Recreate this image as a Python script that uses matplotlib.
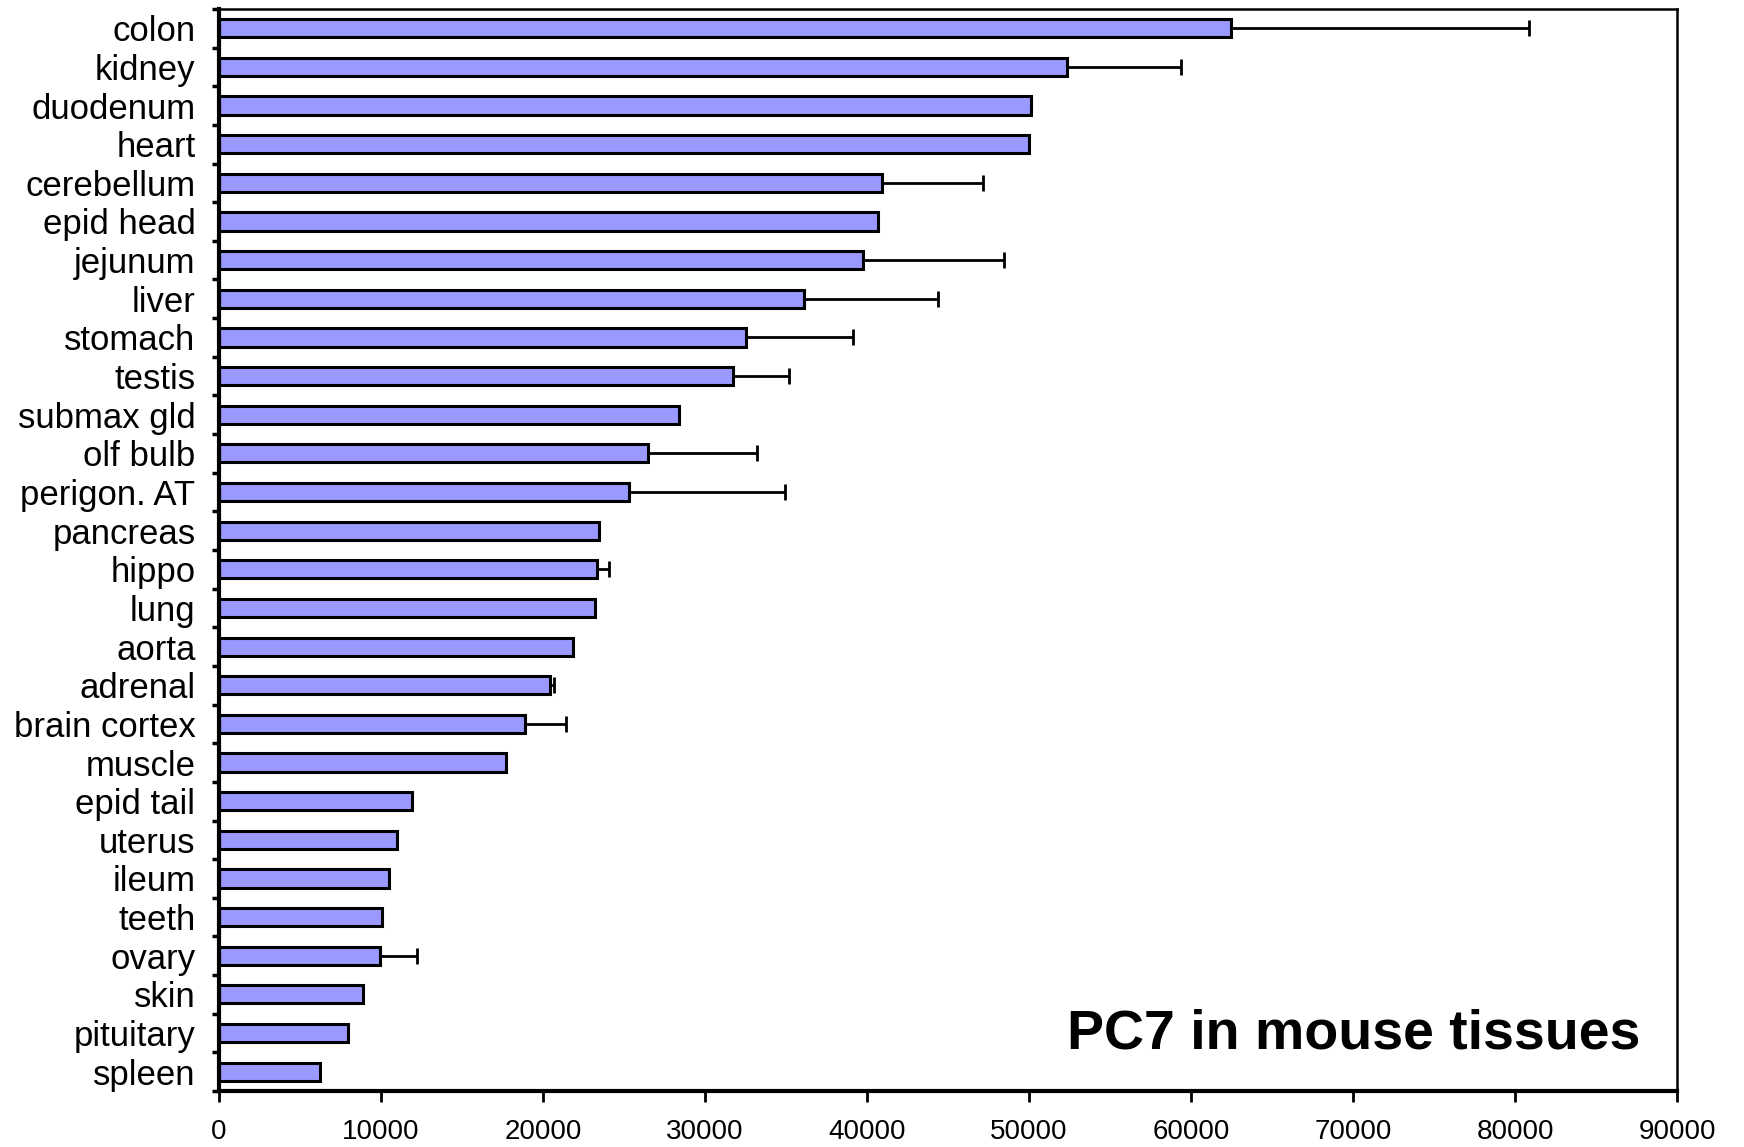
import matplotlib
matplotlib.use("Agg")
import matplotlib.pyplot as plt
import numpy as np

plt.rcParams["font.family"] = ["Liberation Sans Narrow", "Liberation Sans", "DejaVu Sans"]

tissues = [
    "colon", "kidney", "duodenum", "heart", "cerebellum", "epid head",
    "jejunum", "liver", "stomach", "testis", "submax gld", "olf bulb",
    "perigon. AT", "pancreas", "hippo", "lung", "aorta", "adrenal",
    "brain cortex", "muscle", "epid tail", "uterus", "ileum", "teeth",
    "ovary", "skin", "pituitary", "spleen",
]

values = [
    62450, 52350, 50120, 50000, 40900, 40700,
    39770, 36130, 32510, 31710, 28400, 26500,
    25310, 23460, 23340, 23220, 21870, 20410,
    18900, 17720, 11910, 10970, 10490, 10040,
    9940, 8880, 7990, 6220,
]

# upper error only (0 where no bar drawn)
errors = [
    18400, 7000, 0, 0, 6280, 0,
    8700, 8270, 6640, 3490, 0, 6730,
    9650, 0, 730, 0, 0, 240,
    2530, 0, 0, 0, 0, 0,
    2300, 0, 0, 0,
]

x_ticks = [0, 10000, 20000, 30000, 40000, 50000, 60000, 70000, 80000, 90000]

n = len(tissues)
ypos = np.arange(n)[::-1]

fig = plt.figure(figsize=(17.44, 11.47), dpi=100)
ax = fig.add_axes([0.1256, 0.0488, 0.836, 0.9434])

ax.barh(ypos, values, height=0.47, color="#9999FF", edgecolor="black",
        linewidth=2.2, zorder=2)

err = np.array(errors)
mask = err > 0
ax.errorbar(np.array(values)[mask], ypos[mask],
            xerr=[np.zeros(mask.sum()), err[mask]],
            fmt="none", ecolor="black", elinewidth=2, capsize=6,
            capthick=2, zorder=3)

ax.set_xlim(0, 90000)
ax.set_ylim(-0.5, n - 0.5)

ax.set_xticks(x_ticks)
ax.set_xticklabels([str(t) for t in x_ticks], fontsize=20)
ax.tick_params(axis="x", direction="out", length=8, width=2, pad=12)

ax.set_yticks(ypos)
ax.set_yticklabels(tissues, fontsize=25)
ax.tick_params(axis="y", which="major", length=0, pad=17)
ax.set_yticks(np.arange(-0.5, n, 1.0), minor=True)
ax.tick_params(axis="y", which="minor", direction="out", length=5, width=2.5)

ax.spines["left"].set_linewidth(3)
ax.spines["bottom"].set_linewidth(3)
ax.spines["top"].set_linewidth(1.8)
ax.spines["right"].set_linewidth(1.8)

ax.text(0.9746, 0.039, "PC7 in mouse tissues", transform=ax.transAxes,
        ha="right", va="baseline", fontsize=40, fontweight="bold")

fig.savefig("out.png", dpi=100)
